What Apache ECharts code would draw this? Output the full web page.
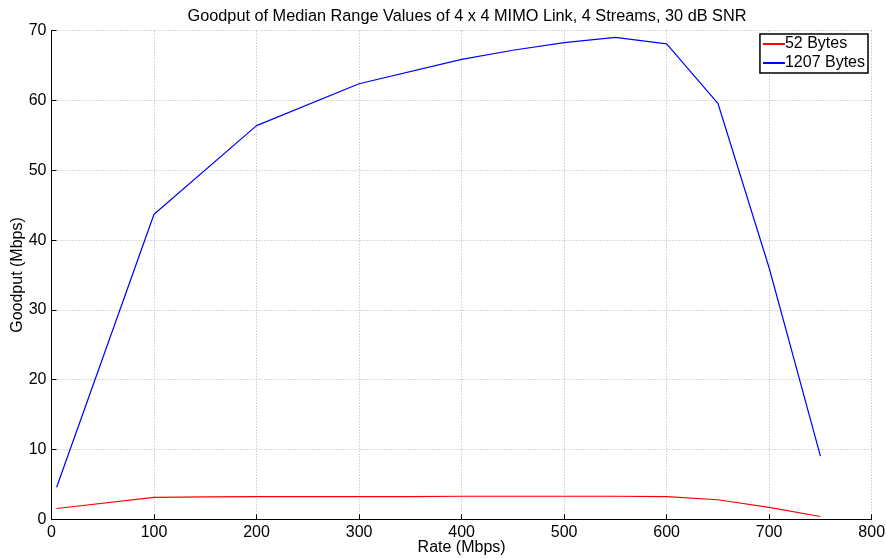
<!DOCTYPE html>
<html><head><meta charset="utf-8">
<script src="https://cdn.jsdelivr.net/npm/echarts@6/dist/echarts.min.js"></script>
<style>html,body{margin:0;padding:0;background:#fff}#c{width:886px;height:559px}</style>
</head><body><div id="c"></div>
<script>
const titleText = 'Goodput of Median Range Values of 4 x 4 MIMO Link, 4 Streams, 30 dB SNR';
const xName = 'Rate (Mbps)';
const yName = 'Goodput (Mbps)';
const seriesNames = ['52 Bytes', '1207 Bytes'];
const rates = [5, 100, 150, 200, 250, 300, 350, 400, 450, 500, 550, 600, 650, 700, 750];
const goodput52 = [1.55, 3.15, 3.2, 3.25, 3.25, 3.25, 3.25, 3.3, 3.3, 3.3, 3.3, 3.25, 2.8, 1.7, 0.4];
const rates1207 = [5, 100, 200, 300, 400, 450, 500, 550, 600, 650, 700, 750];
const goodput1207 = [4.6, 43.7, 56.4, 62.4, 65.9, 67.2, 68.3, 69.05, 68.1, 59.6, 36.0, 9.05];

const font = 'Liberation Sans';
const chart = echarts.init(document.getElementById('c'));
const axisCommon = {
  axisLine: {show: true, lineStyle: {color: '#000', width: 1}},
  axisTick: {show: true, inside: true, length: 5, lineStyle: {color: '#000'}},
  axisLabel: {color: '#000', fontFamily: font, fontSize: 16},
  splitLine: {show: true, lineStyle: {color: '#b4b4b4', type: [1, 2], width: 1}},
  nameTextStyle: {color: '#000', fontFamily: font, fontSize: 16},
  nameMoveOverlap: false
};
chart.setOption({
  animation: false,
  backgroundColor: '#fff',
  title: {text: titleText, left: 462, top: 4, textAlign: 'center',
    textStyle: {fontFamily: font, fontSize: 16.3, fontWeight: 'normal', color: '#000'}},
  grid: {left: 51.5, right: 14.3, top: 30.7, bottom: 39.7, containLabel: false, outerBoundsMode: 'none'},
  legend: {
    data: seriesNames, orient: 'vertical', right: 18, top: 34,
    itemWidth: 22, itemHeight: 2, itemGap: 3, icon: 'rect',
    padding: [2, 3, 2, 3],
    borderColor: '#000', borderWidth: 1.5, backgroundColor: '#fff',
    textStyle: {fontFamily: font, fontSize: 16, color: '#000', padding: [0, 0, 0, -5]}
  },
  xAxis: Object.assign({}, axisCommon, {
    type: 'value', min: 0, max: 800, interval: 100,
    name: xName, nameLocation: 'middle', nameGap: 20,
    axisLabel: Object.assign({}, axisCommon.axisLabel, {margin: 5})
  }),
  yAxis: Object.assign({}, axisCommon, {
    type: 'value', min: 0, max: 70, interval: 10,
    name: yName, nameLocation: 'middle', nameGap: 26,
    axisLabel: Object.assign({}, axisCommon.axisLabel, {margin: 5})
  }),
  series: [
    {name: seriesNames[0], type: 'line', symbol: 'none', color: '#ff0000',
     lineStyle: {width: 1.2}, data: rates.map((r, i) => [r, goodput52[i]])},
    {name: seriesNames[1], type: 'line', symbol: 'none', color: '#0000ff',
     lineStyle: {width: 1.2}, data: rates1207.map((r, i) => [r, goodput1207[i]])}
  ]
});
</script></body></html>
